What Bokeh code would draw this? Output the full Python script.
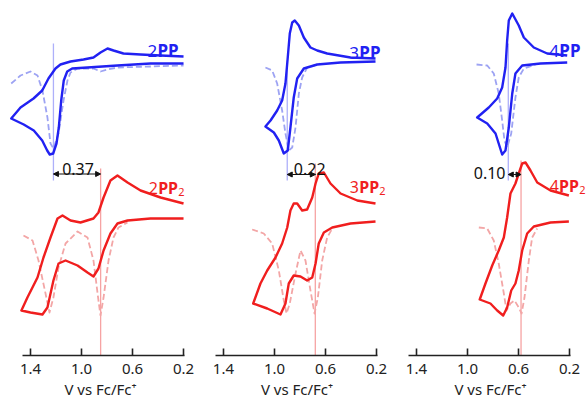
from bokeh.plotting import figure
from bokeh.layouts import row
from bokeh.models import FixedTicker, Label, Arrow, NormalHead, Range1d, NumeralTickFormatter
from bokeh.embed import file_html
from bokeh.resources import INLINE

# ---------------- data (potential in V vs Fc/Fc+, current in arbitrary units) -------------
compounds = ["2", "3", "4"]
delta_labels = ["0.37", "0.22", "0.10"]
e_mono = [1.22, 0.90, 0.68]      # marker potential, nPP
e_dimer = [0.85, 0.68, 0.58]     # marker potential, nPP2
mono_top = [31.2, 29.5, 31.2]
mono_bottom = [17.5, 17.5, 17.5]
dimer_top = [18.7, 19.2, 19.5]
dimer_bottom = [0.0, 0.0, 0.0]
ticks = [1.4, 1.0, 0.6, 0.2]

# 2PP
pp2_cv_E = [0.200, 0.380, 0.537, 0.671, 0.749, 0.796, 0.851, 0.906, 0.984, 1.086, 1.165, 1.204, 1.259,
            1.308, 1.376, 1.478, 1.551, 1.453, 1.374, 1.308, 1.269, 1.249, 1.222, 1.196, 1.178, 1.159,
            1.139, 1.112, 1.073, 0.953, 0.718, 0.459, 0.200]
pp2_cv_I = [29.9, 30.0, 30.1, 30.2, 30.5, 30.7, 30.3, 29.8, 29.6, 29.4, 29.1, 28.7, 27.7,
            26.5, 25.7, 24.8, 23.7, 23.1, 22.5, 21.5, 20.5, 20.1, 20.2, 21.2, 22.8, 25.5,
            27.5, 28.4, 28.7, 28.8, 29.0, 29.2, 29.2]
pp2_dpv_E = [1.551, 1.478, 1.400, 1.345, 1.306, 1.267, 1.243, 1.220, 1.180, 1.141, 1.110, 1.086, 1.031,
             0.906, 0.851, 0.796, 0.718, 0.200]
pp2_dpv_I = [27.2, 28.0, 28.4, 28.0, 26.5, 23.8, 21.2, 20.7, 22.2, 25.5, 27.5, 28.3, 28.7,
             28.7, 28.4, 28.6, 28.8, 29.0]
# 2PP2
pp2d_cv_E = [0.200, 0.380, 0.537, 0.639, 0.718, 0.773, 0.827, 0.867, 0.906, 1.008, 1.086, 1.149, 1.188,
             1.243, 1.298, 1.345, 1.424, 1.471, 1.400, 1.306, 1.267, 1.220, 1.180, 1.125, 1.031, 0.953,
             0.906, 0.867, 0.827, 0.773, 0.718, 0.639, 0.459, 0.200]
pp2d_cv_I = [15.2, 15.8, 16.5, 17.3, 18.0, 17.5, 15.8, 14.3, 13.7, 13.3, 13.5, 14.0, 13.7,
             11.8, 9.8, 7.8, 5.8, 4.5, 4.3, 4.1, 4.8, 7.5, 9.2, 9.5, 9.0, 8.3,
             7.9, 8.7, 10.5, 12.2, 13.2, 13.5, 13.7, 13.7]
pp2d_dpv_E = [1.455, 1.384, 1.337, 1.282, 1.251, 1.220, 1.180, 1.125, 1.031, 0.953, 0.906, 0.867, 0.851,
              0.827, 0.788, 0.749, 0.710, 0.639]
pp2d_dpv_I = [12.0, 11.5, 9.5, 6.2, 4.3, 5.8, 8.8, 11.2, 12.4, 11.8, 9.5, 5.5, 4.0,
              5.8, 9.5, 11.8, 12.8, 13.3]

# 3PP
pp3_cv_E = [0.208, 0.404, 0.587, 0.665, 0.718, 0.770, 0.809, 0.841, 0.861, 0.880, 0.896, 0.914, 0.940,
            0.979, 1.031, 1.071, 1.005, 0.966, 0.927, 0.896, 0.875, 0.849, 0.822, 0.770, 0.665, 0.482,
            0.208]
pp3_cv_I = [29.7, 29.8, 30.2, 30.5, 30.8, 31.8, 33.0, 33.5, 33.3, 32.2, 29.8, 27.2, 25.5,
            24.5, 23.5, 22.9, 22.3, 21.5, 20.2, 20.5, 22.8, 25.8, 27.7, 28.7, 29.1, 29.3,
            29.4]
pp3_dpv_E = [1.071, 1.018, 0.979, 0.940, 0.914, 0.888, 0.861, 0.835, 0.809, 0.783, 0.744, 0.639]
pp3_dpv_I = [28.8, 28.5, 27.2, 24.5, 22.2, 20.5, 20.8, 22.8, 26.2, 27.8, 28.8, 29.2]
# 3PP2
pp3d_cv_E = [0.208, 0.351, 0.482, 0.561, 0.613, 0.653, 0.678, 0.704, 0.744, 0.783, 0.822, 0.849, 0.875,
             0.900, 0.940, 0.992, 1.057, 1.110, 1.167, 1.057, 0.953, 0.914, 0.888, 0.849, 0.796, 0.744,
             0.704, 0.678, 0.653, 0.613, 0.547, 0.404, 0.208]
pp3d_cv_I = [15.2, 15.5, 16.2, 17.2, 18.3, 18.2, 17.2, 15.8, 14.6, 14.5, 15.2, 15.2, 14.5,
             12.8, 11.2, 9.8, 8.5, 7.2, 5.2, 4.7, 4.1, 5.2, 7.2, 8.0, 7.9, 7.5,
             7.8, 9.2, 11.2, 12.3, 12.8, 13.2, 13.4]
pp3d_dpv_E = [1.175, 1.084, 1.018, 0.966, 0.927, 0.906, 0.880, 0.835, 0.796, 0.757, 0.718, 0.686, 0.660,
              0.626, 0.587, 0.547]
pp3d_dpv_I = [12.6, 12.2, 11.2, 8.5, 5.5, 4.2, 5.2, 8.2, 10.5, 9.5, 6.5, 4.2, 5.8,
              9.5, 11.8, 12.7]

# 4PP
pp4_cv_E = [0.218, 0.375, 0.480, 0.558, 0.598, 0.649, 0.676, 0.689, 0.702, 0.728, 0.767, 0.833, 0.924,
            0.845, 0.780, 0.728, 0.702, 0.676, 0.649, 0.624, 0.571, 0.427, 0.218]
pp4_cv_I = [30.0, 30.2, 30.8, 31.8, 33.0, 34.2, 33.5, 31.5, 28.8, 26.8, 25.7, 24.8, 23.8,
            23.2, 22.2, 20.1, 20.5, 22.8, 26.2, 28.2, 29.0, 29.2, 29.3]
pp4_dpv_E = [0.929, 0.845, 0.794, 0.755, 0.728, 0.710, 0.689, 0.657, 0.624, 0.598, 0.558, 0.467]
pp4_dpv_I = [29.1, 29.0, 28.2, 26.2, 23.5, 21.5, 20.8, 22.2, 25.8, 27.8, 28.7, 29.1]
# 4PP2
pp4d_cv_E = [0.205, 0.349, 0.453, 0.506, 0.545, 0.571, 0.598, 0.624, 0.663, 0.689, 0.715, 0.755, 0.806,
             0.859, 0.904, 0.820, 0.767, 0.720, 0.689, 0.657, 0.624, 0.598, 0.571, 0.532, 0.480, 0.349,
             0.205]
pp4d_cv_I = [16.0, 16.5, 17.3, 18.5, 19.3, 19.2, 18.2, 17.2, 16.2, 13.8, 11.8, 10.5, 9.0,
             7.2, 5.6, 5.2, 4.5, 4.0, 4.8, 6.5, 7.2, 8.5, 10.5, 12.2, 12.9, 13.3,
             13.4]
pp4d_dpv_E = [0.911, 0.845, 0.794, 0.755, 0.715, 0.694, 0.663, 0.631, 0.598, 0.576, 0.553, 0.519, 0.493,
              0.453]
pp4d_dpv_I = [12.8, 12.7, 11.5, 9.2, 6.2, 4.5, 5.2, 5.5, 4.8, 4.2, 5.8, 9.5, 11.8,
              12.7]

mono_cv = [(pp2_cv_E, pp2_cv_I), (pp3_cv_E, pp3_cv_I), (pp4_cv_E, pp4_cv_I)]
mono_dpv = [(pp2_dpv_E, pp2_dpv_I), (pp3_dpv_E, pp3_dpv_I), (pp4_dpv_E, pp4_dpv_I)]
dimer_cv = [(pp2d_cv_E, pp2d_cv_I), (pp3d_cv_E, pp3d_cv_I), (pp4d_cv_E, pp4d_cv_I)]
dimer_dpv = [(pp2d_dpv_E, pp2d_dpv_I), (pp3d_dpv_E, pp3d_dpv_I), (pp4d_dpv_E, pp4d_dpv_I)]

# ---------------- layout / style -------------
FONT = "Noto Sans"
BLUE = "#2121f2"
RED = "#f01e1e"
BLUE_D = "#9da3f3"
RED_D = "#f3a6a6"
BLUE_V = "#aeb0fa"
RED_V = "#f6a3a3"

panel_ranges = [(1.635, 0.067), (1.580, 0.067), (1.580, 0.059)]
panel_widths = [200, 193, 194]
FIG_H = 403
mono_label_pos = [(0.239, 30.5), (0.169, 30.3), (0.114, 30.5)]
dimer_label_pos = [(0.192, 16.8), (0.129, 16.9), (0.075, 17.0)]
delta_pos = [(1.027, 18.65, "center", "alphabetic"), (0.724, 18.7, "center", "alphabetic"),
             (0.702, 18.3, "right", "middle")]
arrow_y = [18.15, 18.1, 18.1]


def compound_label(p, x, y, digit, color, size, sub):
    off = 0
    if sub:
        p.add_layout(Label(x=x, y=y - 0.4, text="2", text_align="right", text_baseline="alphabetic",
                           text_font=FONT, text_font_size=f"{size - 5}px", text_color=color))
        off = -6.5
    p.add_layout(Label(x=x, y=y, x_offset=off, text="PP", text_align="right", text_baseline="alphabetic",
                       text_font=FONT, text_font_size=f"{size}px", text_font_style="bold", text_color=color))
    ppw = 2 * 0.63 * size
    p.add_layout(Label(x=x, y=y, x_offset=off - ppw, text=digit, text_align="right",
                       text_baseline="alphabetic", text_font=FONT, text_font_size=f"{size}px",
                       text_color=color))


figs = []
for k in range(3):
    p = figure(width=panel_widths[k], height=FIG_H,
               x_range=Range1d(*panel_ranges[k]), y_range=Range1d(0.0, 35.5),
               output_backend="svg", toolbar_location=None, y_axis_location=None,
               min_border_left=0, min_border_right=0, min_border_top=0, min_border_bottom=48)
    p.outline_line_color = None
    p.grid.visible = False
    p.background_fill_color = "white"
    p.border_fill_color = "white"

    ax = p.xaxis[0]
    ax.ticker = FixedTicker(ticks=ticks)
    ax.formatter = NumeralTickFormatter(format="0.0")
    ax.bounds = (0.19, 1.465)
    ax.major_tick_in = 7
    ax.major_tick_out = 0
    ax.minor_tick_line_color = None
    ax.major_tick_line_color = "#222222"
    ax.major_tick_line_width = 1.6
    ax.axis_line_color = "#222222"
    ax.axis_line_width = 1.6
    ax.major_label_text_font = FONT
    ax.major_label_text_font_size = "15px"
    ax.major_label_text_color = "#222222"
    ax.major_label_standoff = 8
    ax.axis_label = "V vs Fc/Fc\u207a"
    ax.axis_label_text_font = FONT
    ax.axis_label_text_font_size = "15px"
    ax.axis_label_text_font_style = "normal"
    ax.axis_label_text_color = "#222222"
    ax.axis_label_standoff = 2

    # marker lines
    p.segment(x0=[e_mono[k]], y0=[mono_bottom[k]], x1=[e_mono[k]], y1=[mono_top[k]],
              line_color=BLUE_V, line_width=1.3)
    p.segment(x0=[e_dimer[k]], y0=[dimer_bottom[k]], x1=[e_dimer[k]], y1=[dimer_top[k]],
              line_color=RED_V, line_width=1.3)

    # DPV (dashed)
    p.line(mono_dpv[k][0], mono_dpv[k][1], line_color=BLUE_D, line_width=1.8, line_dash="6 3",
           line_join="round")
    p.line(dimer_dpv[k][0], dimer_dpv[k][1], line_color=RED_D, line_width=1.8, line_dash="6 3",
           line_join="round")
    # CV (solid)
    p.line(mono_cv[k][0], mono_cv[k][1], line_color=BLUE, line_width=2.4, line_join="round")
    p.line(dimer_cv[k][0], dimer_cv[k][1], line_color=RED, line_width=2.4, line_join="round")

    # separation arrow and value
    p.add_layout(Arrow(start=NormalHead(size=5, fill_color="#111111", line_color="#111111"),
                       end=NormalHead(size=5, fill_color="#111111", line_color="#111111"),
                       x_start=e_mono[k], y_start=arrow_y[k], x_end=e_dimer[k], y_end=arrow_y[k],
                       line_color="#111111", line_width=1.1))
    dx, dy, al, bl = delta_pos[k]
    p.add_layout(Label(x=dx, y=dy, text=delta_labels[k], text_align=al, text_baseline=bl,
                       text_font=FONT, text_font_size="16px", text_color="#111111"))

    compound_label(p, mono_label_pos[k][0], mono_label_pos[k][1], compounds[k], BLUE, 17, False)
    compound_label(p, dimer_label_pos[k][0], dimer_label_pos[k][1], compounds[k], RED, 16, True)
    figs.append(p)

layout = row(*figs, spacing=0)
open("out.html", "w").write(file_html(layout, INLINE))
